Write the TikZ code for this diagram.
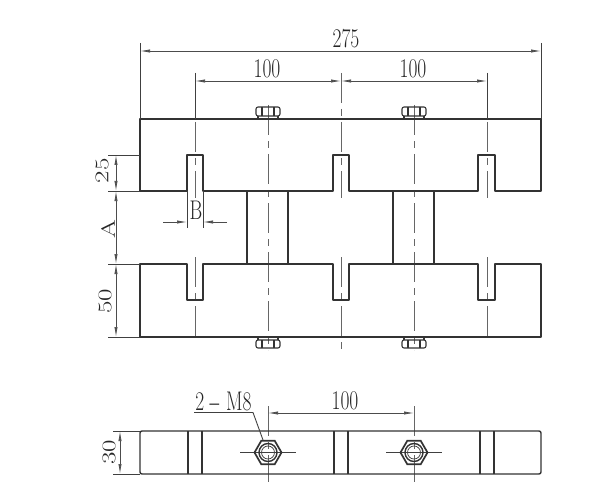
\documentclass[tikz,border=0pt]{standalone}
\usepackage{tikz}
\usetikzlibrary{arrows.meta,shapes.geometric}
\tikzset{
  outline/.style={line width=1.4pt,color=black!80},
  thinline/.style={line width=0.7pt,color=black!75},
  boltline/.style={line width=1.1pt,color=black!80},
  centerline/.style={line width=1pt,color=black!60,dash pattern=on 30pt off 6pt on 7pt off 6pt},
  dimline/.style={line width=0.7pt,color=black!70,{Latex[length=10pt,width=3.2pt]}-{Latex[length=10pt,width=3.2pt]}},
  arrowline/.style={line width=0.7pt,color=black!70,-{Latex[length=10pt,width=3.2pt]}},
  dimtext/.style={inner sep=0pt,text=black!85,font=\fontsize{27}{29}\selectfont,xscale=0.72,transform shape},
  nutshape/.style={draw,outline,line width=1.7pt,regular polygon,regular polygon sides=6,minimum size=27pt,inner sep=0pt}
}
\begin{document}
\begin{tikzpicture}[x=1pt,y=-1pt]
  \useasboundingbox (0,0) rectangle (600,500);
  % centre lines
  \foreach \cx in {268,414}{
    \draw[centerline] (\cx,105)--(\cx,350);
    \draw[centerline] (\cx,406)--(\cx,482);
    \draw[thinline] (\cx-28,452.5)--(\cx+28,452.5);
  }
  \foreach \cx/\cy in {195/337,341/351,487/337}{
    \draw[centerline] (\cx,73)--(\cx,198);
    \draw[centerline] (\cx,257)--(\cx,\cy);
  }
  % upper and lower blocks
  \draw[outline,line join=round] (140,119)--(541,119)--(541,191)--(495,191)--(495,155)--(478,155)--(478,191)
    --(349,191)--(349,155)--(333,155)--(333,191)--(203,191)--(203,155)--(187,155)--(187,191)--(140,191)--cycle;
  \draw[outline,line join=round] (140,264)--(187,264)--(187,300)--(203,300)--(203,264)--(333,264)--(333,300)--(349,300)
    --(349,264)--(478,264)--(478,300)--(495,300)--(495,264)--(541,264)--(541,337)--(140,337)--cycle;
  % columns
  \draw[outline] (247,191)--(247,264) (288,191)--(288,264);
  \draw[outline] (393,191)--(393,264) (434,191)--(434,264);
  % bolts of the front view
  \foreach \cx in {268,414}{
    \draw[boltline,rounded corners=2pt] (\cx-12,107) rectangle (\cx+12,116);
    \draw[boltline] (\cx-6,107)--(\cx-6,116) (\cx+6,107)--(\cx+6,116) (\cx-10,116)--(\cx-10,119) (\cx+10,116)--(\cx+10,119);
    \draw[boltline,rounded corners=2pt] (\cx-12,340) rectangle (\cx+12,348);
    \draw[boltline] (\cx-6,340)--(\cx-6,348) (\cx+6,340)--(\cx+6,348) (\cx-10,337)--(\cx-10,340) (\cx+10,337)--(\cx+10,340);
  }
  % bottom view
  \draw[outline,rounded corners=2pt] (140,431) rectangle (541,474);
  \foreach \sx in {188,202,334,348,480,494}{
    \draw[outline] (\sx,431)--(\sx,474);
  }
  \foreach \cx in {268,414}{
    \node[nutshape] (nut\cx) at (\cx,452.5) {};
    \draw[outline] (\cx,452.5) circle (9);
    \draw[thinline] (\cx,452.5) circle (6.5);
  }
  % dimension lines
  \draw[thinline] (140,43)--(140,119) (541,43)--(541,119);
  \draw[thinline] (195,73)--(195,119) (487,73)--(487,119);
  \draw[dimline] (140,51)--(541,51);
  \draw[dimline] (195,81)--(341,81);
  \draw[dimline] (341,81)--(487,81);
  \draw[thinline] (108,155)--(140,155) (108,191)--(140,191) (108,264)--(140,264) (108,337)--(140,337);
  \draw[dimline] (116,155)--(116,191);
  \draw[dimline] (116,191)--(116,264);
  \draw[dimline] (116,264)--(116,337);
  \draw[thinline] (187,191)--(187,228) (203,191)--(203,228);
  \draw[arrowline] (163,222)--(187,222);
  \draw[arrowline] (227,222)--(203,222);
  \draw[dimline] (268,413)--(414,413);
  \draw[thinline] (113,431)--(140,431) (113,474)--(140,474);
  \draw[dimline] (120,431)--(120,474);
  \draw[thinline,line width=0.9pt] (194,412.5)--(253,412.5)--(263,440);
  % dimension texts
  \node[dimtext] (total) at (346,39) {275};
  \node[dimtext] (pitchl) at (267,69) {100};
  \node[dimtext] (pitchr) at (413,69) {100};
  \node[dimtext] (slotw) at (196,210) {B};
  \node[dimtext] (bolts) at (223.5,401) {2\kern7pt\scalebox{2}[1]{-}\kern7pt M8};
  \node[dimtext] (pitchb) at (345,401) {100};
  \node[dimtext,rotate=90] (slotd) at (102,171) {25};
  \node[dimtext,rotate=90] (gapa) at (108,229) {A};
  \node[dimtext,rotate=90] (blockh) at (105,301) {50};
  \node[dimtext,rotate=90] (thick) at (109,452) {30};
\end{tikzpicture}
\end{document}
